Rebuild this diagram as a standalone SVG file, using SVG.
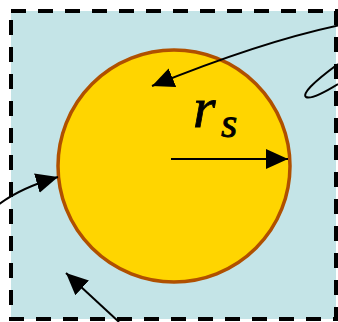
<svg xmlns="http://www.w3.org/2000/svg" width="338" height="322" viewBox="0 0 338 322">
  <defs>
    <marker id="ah" markerUnits="userSpaceOnUse" markerWidth="24" markerHeight="22" refX="22" refY="10" orient="auto">
      <path d="M0,0 L22,10 L0,20 z" fill="#000"/>
    </marker>
    <style>
      .edge { fill: none; stroke: #000; stroke-width: 2; }
      .math { font-family: "Liberation Serif", "Times New Roman", serif; font-style: italic; fill: #000; stroke: #000; stroke-width: 0.8; }
    </style>
  </defs>
  <rect x="0" y="0" width="338" height="322" fill="#fff"/>
  <g id="region">
    <rect x="11" y="11" width="325" height="308" fill="#C4E4E7" stroke="#000" stroke-width="4" stroke-dasharray="15 12"/>
  </g>
  <g id="sphere">
    <circle cx="174" cy="166" r="116" fill="#FFD500" stroke="#B05000" stroke-width="3.5"/>
    <text class="math" x="193" y="127" font-size="58">r</text>
    <text class="math" x="221" y="137" font-size="42">s</text>
  </g>
  <g id="connectors">
    <path class="edge" d="M171,159 L288,159" marker-end="url(#ah)"/>
    <path class="edge" d="M340,25 Q260,42 152,86" marker-end="url(#ah)"/>
    <path class="edge" d="M338,64 Q300,92 306,97 Q312,100 338,84"/>
    <path class="edge" d="M-2,205 Q20,188 58,177" marker-end="url(#ah)"/>
    <path class="edge" d="M119,322 L66,273" marker-end="url(#ah)"/>
  </g>
</svg>
